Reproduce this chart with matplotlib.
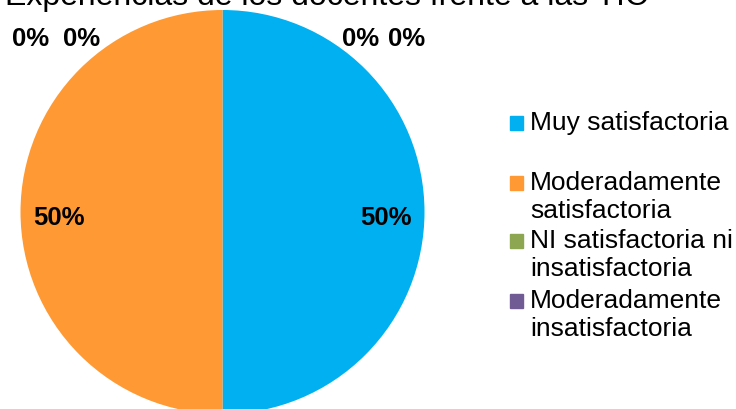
import matplotlib
matplotlib.use("Agg")
import matplotlib.pyplot as plt
from matplotlib.patches import Rectangle
import numpy as np

plt.rcParams['font.family'] = ['Liberation Sans', 'DejaVu Sans']

titulo = "Experiencias de los docentes frente a las TIC"
categorias = ["Muy satisfactoria", "Moderadamente satisfactoria",
              "NI satisfactoria ni insatisfactoria", "Moderadamente insatisfactoria",
              "Insatisfactoria", "Muy insatisfactoria"]
valores = [50, 50, 0, 0, 0, 0]
colores = ["#00B0F0", "#FF9933", "#8CA652", "#715B94", "#4BACC6", "#F79646"]
# texto de la leyenda tal como sale partido en el original (solo caben 4)
leyenda = ["Muy satisfactoria", "Moderadamente\nsatisfactoria",
           "NI satisfactoria ni\ninsatisfactoria", "Moderadamente\ninsatisfactoria"]

W, H = 736, 410
fig = plt.figure(figsize=(W / 100, H / 100), dpi=100)

# pie centre ~ (222.5, 213) px, radius ~202 px
cx, cy, r = 222.5, 213, 202
ax = fig.add_axes([(cx - r) / W, (H - cy - r) / H, 2 * r / W, 2 * r / H])
wedges, _ = ax.pie(valores, colors=colores, startangle=90, counterclock=False,
                   radius=1, wedgeprops=dict(linewidth=0))
ax.set_xlim(-1, 1)
ax.set_ylim(-1, 1)
ax.set_aspect('equal')
ax.axis('off')

# etiquetas de porcentaje
total = sum(valores)
pos_cero = [(0.685, 0.86), (0.91, 0.86), (-0.95, 0.86), (-0.70, 0.86)]
k = 0
for w, v in zip(wedges, valores):
    txt = "%d%%" % round(100 * v / total)
    if v > 0:
        ang = np.deg2rad((w.theta1 + w.theta2) / 2)
        x, y = 0.81 * np.cos(ang), 0.81 * np.sin(ang) - 0.025
    else:
        x, y = pos_cero[k]
        k += 1
    ax.text(x, y, txt, ha='center', va='center', fontsize=18.5, fontweight='bold',
            clip_on=False)

fig.text(5 / W, 1 - 5 / H, titulo, ha='left', va='baseline', fontsize=23)

# leyenda manual (espaciado irregular como en el original)
ys = [124, 184, 242, 302]
for lab, col, y in zip(leyenda, colores, ys):
    fig.patches.append(Rectangle((510 / W, 1 - (y + 7) / H), 13 / W, 14 / H,
                                 transform=fig.transFigure, color=col))
    fig.text(530 / W, 1 - (y - 13) / H, lab, ha='left', va='top', fontsize=19,
             linespacing=1.2)

fig.savefig("out.png", dpi=100)
